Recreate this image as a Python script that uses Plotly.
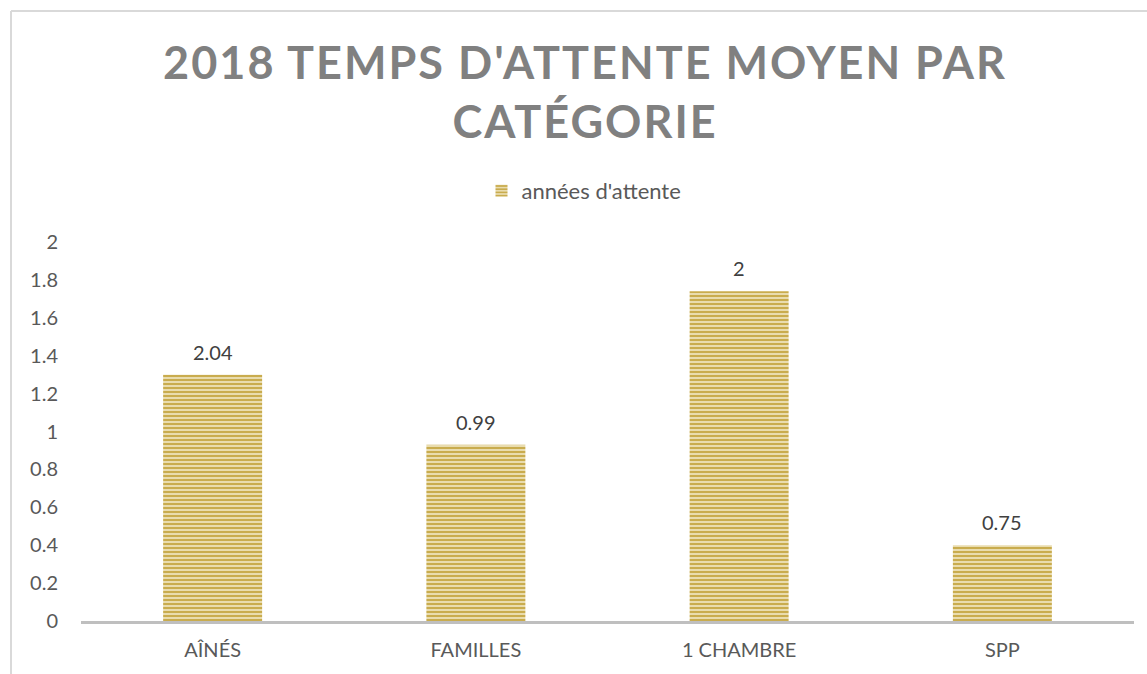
import plotly.graph_objects as go

categories = ["AÎNÉS", "FAMILLES", "1 CHAMBRE", "SPP"]
bar_heights = [1.30, 0.93, 1.74, 0.40]
value_labels = ["2.04", "0.99", "2", "0.75"]
series_name = "années d'attente"
y_ticks = [0, 0.2, 0.4, 0.6, 0.8, 1, 1.2, 1.4, 1.6, 1.8, 2]
y_tick_text = ["0", "0.2", "0.4", "0.6", "0.8", "1", "1.2", "1.4", "1.6", "1.8", "2"]

W, H = 1147, 674
L, R, T, B = 81, 13, 242, 53
pw, ph = W - L - R, H - T - B
FONT = "Lato"

fig = go.Figure()
fig.add_trace(go.Bar(
    x=categories, y=bar_heights, name=series_name,
    marker=dict(
        color="#F2E9C6",
        opacity=1,
        line=dict(width=0),
        pattern=dict(shape="-", fgcolor="#C9AC4E", bgcolor="#F2E9C6",
                     fgopacity=1, size=4, solidity=0.6),
    ),
    showlegend=True,
))

annotations = [
    dict(x=c, y=v, text=t, xref="x", yref="y", showarrow=False,
         yanchor="bottom", yshift=9,
         font=dict(family=FONT, size=20, color="#404040"))
    for c, v, t in zip(categories, bar_heights, value_labels)
]

fig.update_layout(
    width=W, height=H,
    margin=dict(l=L, r=R, t=T, b=B),
    paper_bgcolor="white", plot_bgcolor="white",
    bargap=0.624,
    title=dict(
        text="2018 TEMPS D'ATTENTE MOYEN PAR<br>CATÉGORIE",
        x=585 / W, xanchor="center", xref="container",
        y=1 - 79 / H, yanchor="top", yref="container",
        font=dict(family=FONT, size=45, color="#808080", weight="bold"),
    ),
    legend=dict(
        orientation="h", x=(584 - L) / pw, xanchor="center",
        y=1 + (T - 191) / ph, yanchor="middle",
        font=dict(family=FONT, size=22, color="#595959"),
        itemwidth=30,
    ),
    annotations=annotations,
    xaxis=dict(
        showgrid=False, showline=True, linecolor="#BFBFBF", linewidth=2.5,
        ticks="", tickfont=dict(family=FONT, size=20, color="#595959"),
        ticklabelstandoff=9,
    ),
    yaxis=dict(
        range=[0, 2], tickvals=y_ticks, ticktext=y_tick_text,
        showgrid=False, zeroline=False, showline=False, ticks="",
        tickfont=dict(family=FONT, size=20, color="#595959"),
        ticklabelstandoff=22,
    ),
    shapes=[
        dict(type="line", xref="paper", yref="paper",
             x0=(11 - L) / pw, x1=(W + 5 - L) / pw,
             y0=1 + (T - 11) / ph, y1=1 + (T - 11) / ph,
             line=dict(color="#D9D9D9", width=2)),
        dict(type="line", xref="paper", yref="paper",
             x0=(11 - L) / pw, x1=(11 - L) / pw,
             y0=1 + (T - 11) / ph, y1=-(B + 5) / ph,
             line=dict(color="#D9D9D9", width=2)),
    ],
)

post = """
document.body.style.margin = '0';
document.body.style.padding = '0';
var t = document.querySelectorAll('.gtitle');
t.forEach(function(e){ e.style.letterSpacing = '2px'; });
"""
fig.write_html("out.html", post_script=post, config={"displayModeBar": False})
